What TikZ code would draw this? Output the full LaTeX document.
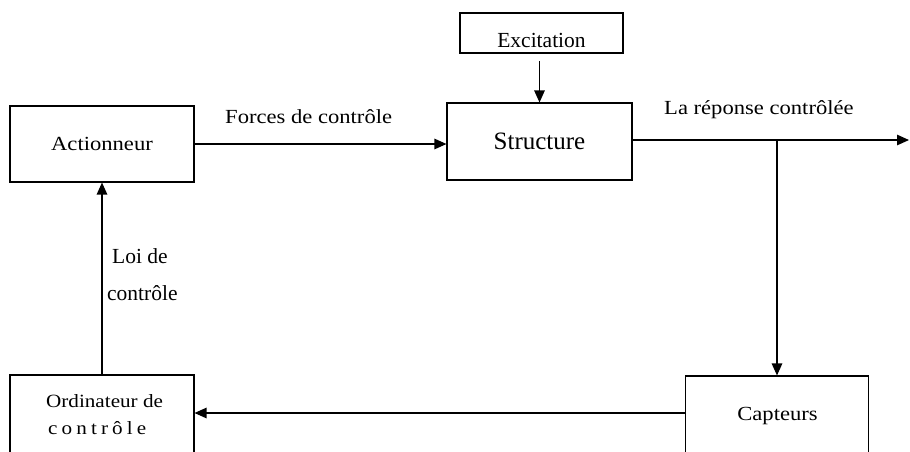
\documentclass[tikz,border=0pt]{standalone}
\usepackage{fontspec}
\newfontfamily\timesfont{Liberation Serif}
\newfontfamily\widefont{Liberation Serif}[FakeStretch=1.13]
\usetikzlibrary{arrows.meta}
\begin{document}
\begin{tikzpicture}[x=1pt,y=-1pt,
  box/.style={draw, line width=1.1pt, inner sep=0pt},
  conn/.style={line width=1.2pt, -{Triangle[length=12pt,width=10.5pt]}},
  cam/.style={font=\widefont\fontsize{20}{24}\selectfont, inner sep=0pt},
  camsmall/.style={font=\widefont\fontsize{18.7}{23}\selectfont, inner sep=0pt},
  tim/.style={font=\timesfont\fontsize{21.5}{25}\selectfont, inner sep=0pt}]
\useasboundingbox (0,0) rectangle (910,451);
\clip (0,0) rectangle (910,451);

% blocks
\node[box, cam, minimum width=184pt, minimum height=76pt] (act) at (102,144) {Actionneur};
\node[box, font=\timesfont\fontsize{25}{29}\selectfont, minimum width=185pt, minimum height=77pt] (str) at (539.5,141.5) {Structure};
\node[box, line width=1.8pt, minimum width=163pt, minimum height=40pt] (exc) at (541.5,33) {};
\node[tim, anchor=base] (texc) at (541.5,47) {Excitation};
\node[box, minimum width=184pt, minimum height=95pt] (ord) at (102,422.5) {};
\node[camsmall, anchor=base west] (tord1) at (46,407) {Ordinateur de};
\node[camsmall, anchor=base west] (tord2) at (48,434) {\makebox[98pt][s]{c\hfil o\hfil n\hfil t\hfil r\hfil ô\hfil l\hfil e}};
\node[box, minimum width=183pt, minimum height=95pt] (cap) at (777,423.5) {};
\node[cam, anchor=base] (tcap) at (777.5,420) {Capteurs};

% free ends and branch points
\coordinate (out) at (909,140);
\coordinate (fb) at (686,413);

% connectors
\draw[conn] (act.east) -- (act.east -| str.west);
\draw[conn, shorten <=7pt] (str.north |- exc.south) -- (str.north);
\draw[conn] (str.east |- out) -- (out);
\draw[conn] (out -| cap.north) -- (cap.north);
\draw[conn] (fb) -- (fb -| ord.east);
\draw[conn] (ord.north) -- (act.south);

% labels
\node[cam, anchor=base west] (lforces) at (225,123) {Forces de contrôle};
\node[cam, anchor=base west] (lrep) at (664,114) {La réponse contrôlée};
\node[tim, anchor=base west] (lloi1) at (112,263) {Loi de};
\node[tim, anchor=base west] (lloi2) at (107,300) {contrôle};
\end{tikzpicture}
\end{document}
